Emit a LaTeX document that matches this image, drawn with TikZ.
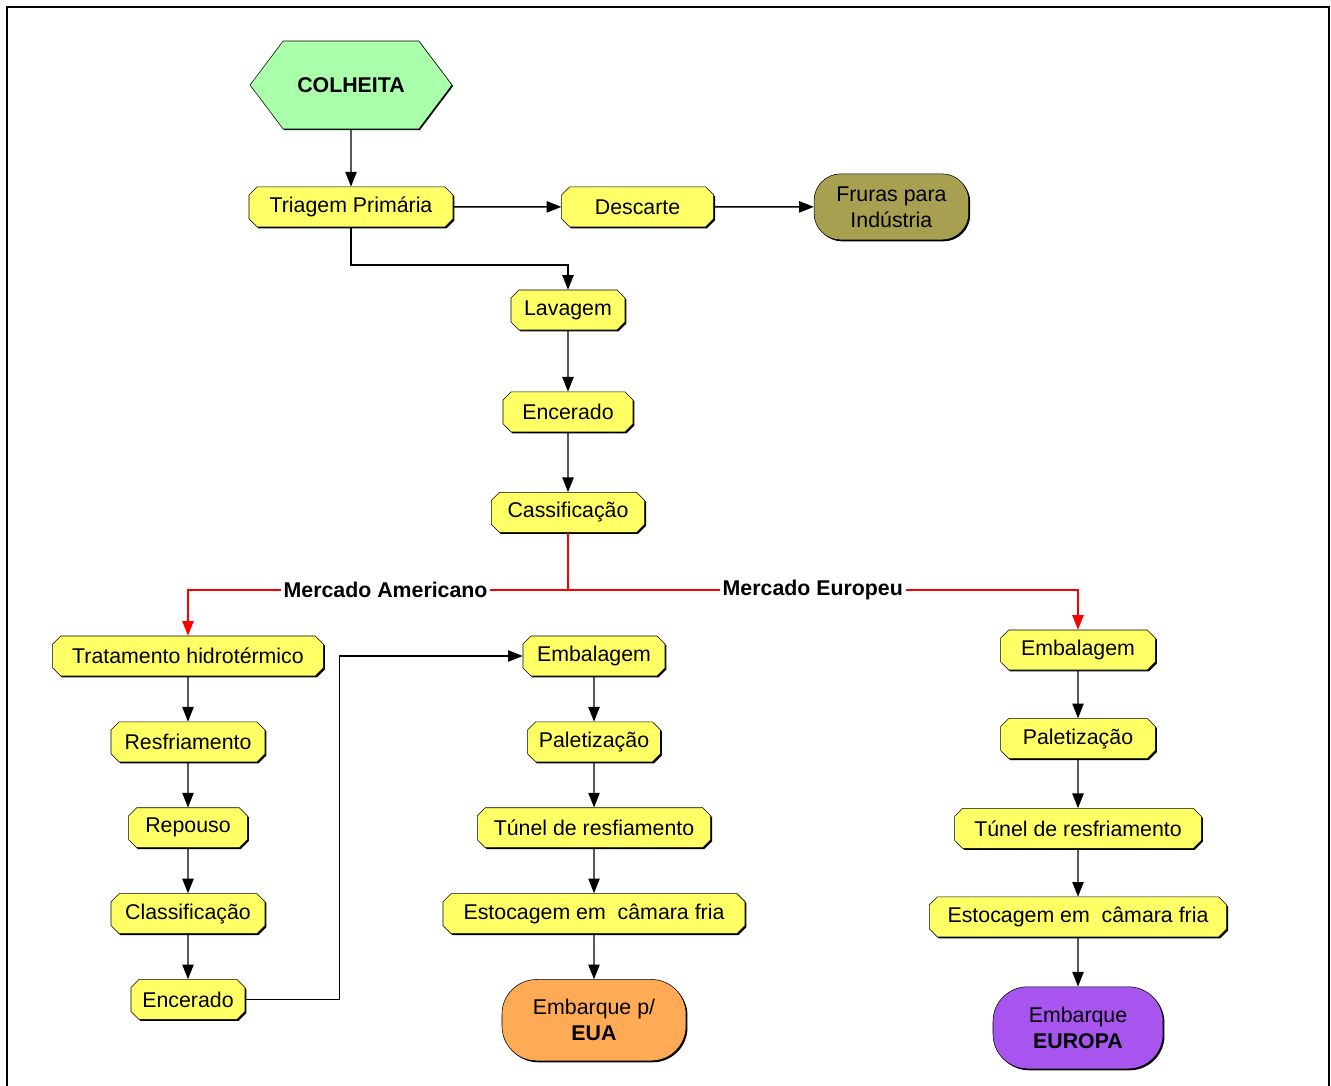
\documentclass[tikz,border=0pt]{standalone}
\usepackage{fontspec}
\setmainfont{Liberation Sans}
\usepackage{xcolor}
\usetikzlibrary{shapes,shapes.misc,shapes.symbols,arrows.meta,positioning,shadows}

\definecolor{boxyellow}{RGB}{255,255,102}
\definecolor{startgreen}{RGB}{170,255,170}
\definecolor{olivebox}{RGB}{166,160,80}
\definecolor{usorange}{RGB}{255,170,85}
\definecolor{eupurple}{RGB}{168,85,240}

\begin{document}
\begin{tikzpicture}[
    x=0.75pt, y=-0.75pt,
    node distance=34pt,
    proc/.style={chamfered rectangle, chamfered rectangle xsep=2.5pt, draw, fill=boxyellow,
        font=\fontsize{16}{19.5}\selectfont, minimum height=30pt, inner xsep=6pt,
        general shadow={fill=black, shadow xshift=1.1pt, shadow yshift=-1.1pt}},
    term/.style={rectangle, rounded corners=20pt, draw, align=center,
        font=\fontsize{16}{19.5}\selectfont,
        general shadow={fill=black, shadow xshift=1.1pt, shadow yshift=-1.1pt}},
    arrow/.style={line width=1pt, -{Triangle[length=11pt,width=8.5pt]}},
    redarrow/.style={arrow, red},
    market/.style={fill=white, text=black, font=\fontsize{16}{19.5}\selectfont\bfseries, inner sep=2pt}
]
\useasboundingbox (0,0) rectangle (1331,1085);
\fill[white] (0,0) rectangle (1331,1085);
\draw[line width=2.2pt] (7,1090) |- (1329,7) -- (1329,1090);

% inicio
\node[signal, signal to=east and west, signal pointer angle=106, draw, fill=startgreen,
      minimum width=151.5pt, minimum height=66pt, font=\fontsize{16}{19.5}\selectfont\bfseries,
      general shadow={fill=black, shadow xshift=0.8pt, shadow yshift=-0.8pt}] (colheita) at (351,85) {COLHEITA};
\node[proc, minimum width=153pt, below=43pt of colheita] (triagem) {Triagem Primária};
\node[proc, minimum width=114pt, right=81pt of triagem] (descarte) {Descarte};
\node[term, fill=olivebox, minimum width=116pt, minimum height=49.5pt, right=75pt of descarte] (industria) {Fruras para\\Indústria};

\node[proc, minimum width=85.5pt] (lavagem) at (568,310) {Lavagem};
\node[proc, minimum width=97.5pt, below=46pt of lavagem] (encerado) {Encerado};
\node[proc, minimum width=115pt, below=45pt of encerado] (cass) {Cassificação};

% mercado americano
\node[proc, minimum width=203pt] (tratamento) at (188,656) {Tratamento hidrotérmico};
\node[proc, minimum width=115.5pt, below=of tratamento] (resfr) {Resfriamento};
\node[proc, minimum width=89pt, below=of resfr] (repouso) {Repouso};
\node[proc, minimum width=115.5pt, below=of repouso] (classif) {Classificação};
\node[proc, minimum width=83pt, below=of classif] (enceradoUS) {Encerado};

\node[proc, minimum width=106.5pt] (embUS) at (594,656) {Embalagem};
\node[proc, minimum width=94.5pt, below=of embUS] (palUS) {Paletização};
\node[proc, minimum width=175pt, below=of palUS] (tunelUS) {Túnel de resfiamento};
\node[proc, minimum width=226.5pt, below=of tunelUS] (estUS) {Estocagem em~ câmara fria};
\node[term, fill=usorange, rounded corners=26pt, minimum width=138pt, minimum height=61pt, below=of estUS] (eua) {Embarque p/\\\textbf{EUA}};

% mercado europeu
\node[proc, minimum width=116pt] (embEU) at (1078,650) {Embalagem};
\node[proc, minimum width=116pt, below=36pt of embEU] (palEU) {Paletização};
\node[proc, minimum width=185pt, below=37pt of palEU] (tunelEU) {Túnel de resfriamento};
\node[proc, minimum width=223pt, below=36pt of tunelEU] (estEU) {Estocagem em~ câmara fria};
\node[term, fill=eupurple, rounded corners=26pt, minimum width=127.5pt, minimum height=61.5pt, below=37pt of estEU] (europa) {Embarque\\\textbf{EUROPA}};

\coordinate (split) at (568,590);

\draw[arrow] (colheita) -- (triagem);
\draw[arrow] (triagem) -- (descarte);
\draw[arrow] (descarte) -- (industria);
\draw[arrow] (triagem.south) -- ++(0,38) -| (lavagem.north);
\draw[arrow] (lavagem) -- (encerado);
\draw[arrow] (encerado) -- (cass);

\draw[red, line width=1pt] (cass.south) -- (split);
\draw[redarrow] (split) -| node[market, pos=0.24] {Mercado Americano} (tratamento.north);
\draw[redarrow] (split) -| node[market, pos=0.24] {Mercado Europeu} (embEU.north);

\draw[arrow] (tratamento) -- (resfr);
\draw[arrow] (resfr) -- (repouso);
\draw[arrow] (repouso) -- (classif);
\draw[arrow] (classif) -- (enceradoUS);
\draw[arrow] (enceradoUS.east) -- ++(94,0) |- (embUS.west);

\draw[arrow] (embUS) -- (palUS);
\draw[arrow] (palUS) -- (tunelUS);
\draw[arrow] (tunelUS) -- (estUS);
\draw[arrow] (estUS) -- (eua);

\draw[arrow] (embEU) -- (palEU);
\draw[arrow] (palEU) -- (tunelEU);
\draw[arrow] (tunelEU) -- (estEU);
\draw[arrow] (estEU) -- (europa);

\end{tikzpicture}
\end{document}
